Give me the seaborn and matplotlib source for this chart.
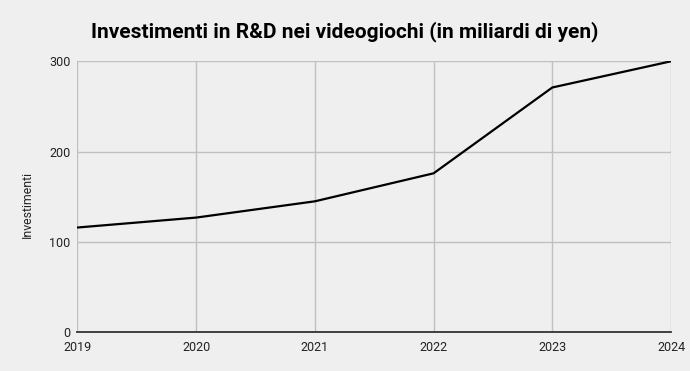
import matplotlib
matplotlib.use('Agg')
import matplotlib.pyplot as plt
import seaborn as sns
import pandas as pd

years = [2019, 2020, 2021, 2022, 2023, 2024]
investimenti = [116, 127, 145, 176, 271, 300]
y_ticks = [0, 100, 200, 300]

BG = '#efefef'
GRID = '#c0c0c0'

sns.set_style('whitegrid')
plt.rcParams['font.family'] = ['Roboto', 'DejaVu Sans']

df = pd.DataFrame({'anno': years, 'investimenti': investimenti})

fig = plt.figure(figsize=(6.9, 3.71), dpi=100, facecolor=BG)
ax = fig.add_axes([0.1123, 0.1043, 0.8602, 0.7305], facecolor=BG)

sns.lineplot(data=df, x='anno', y='investimenti', color='black', linewidth=1.6, ax=ax)

ax.set_xlim(2019, 2024)
ax.set_ylim(0, 300)
ax.set_xticks(years)
ax.set_yticks(y_ticks)
ax.grid(True, color=GRID, linewidth=1)
for side in ['left', 'top', 'right']:
    ax.spines[side].set_visible(False)
ax.spines['bottom'].set_color('#333333')
ax.spines['bottom'].set_linewidth(1.3)
ax.tick_params(axis='both', length=0, labelsize=9, colors='#222222')
ax.tick_params(axis='x', pad=6)
ax.tick_params(axis='y', pad=5)

ax.set_xlabel('')
ax.set_ylabel('Investimenti', fontsize=8.8, color='#222222')
ax.yaxis.set_label_coords(-0.073, 0.47)

fig.text(0.5, 0.915, 'Investimenti in R&D nei videogiochi (in miliardi di yen)',
         ha='center', va='center', fontsize=15, fontweight='bold', color='black')

fig.savefig('out.png', dpi=100, facecolor=BG)
